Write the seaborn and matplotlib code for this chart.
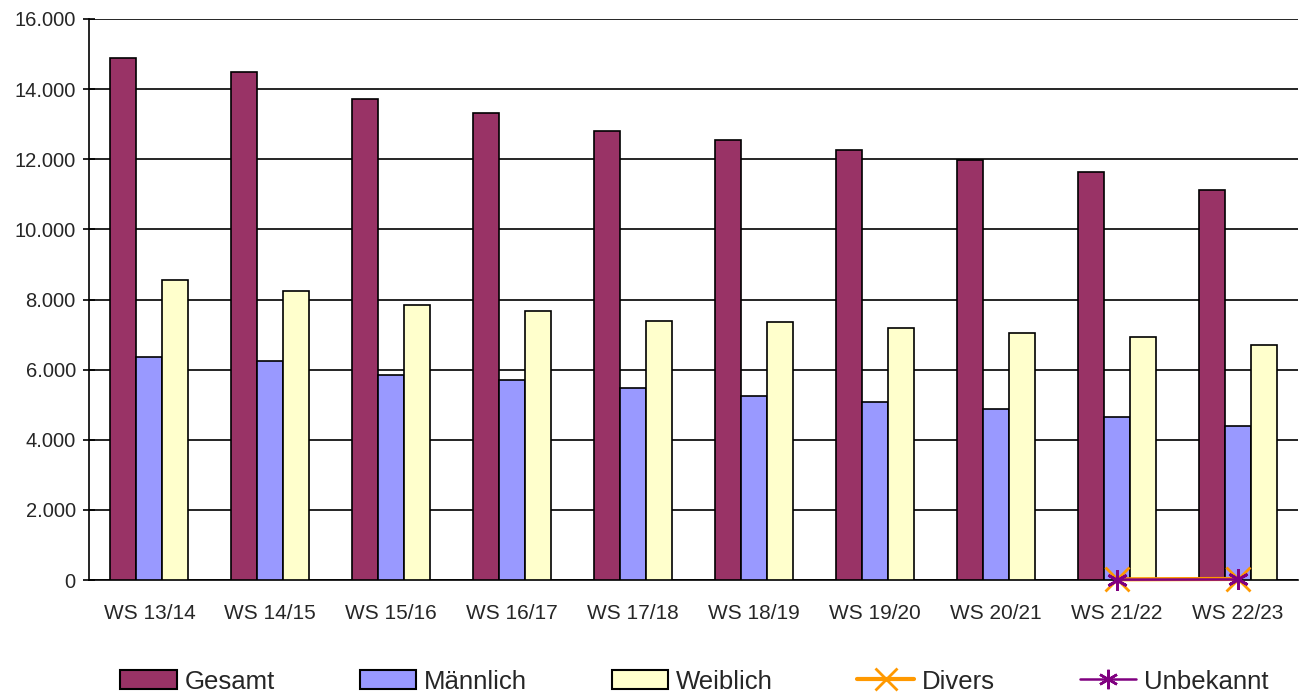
import matplotlib
matplotlib.use("Agg")
import matplotlib.pyplot as plt
import seaborn as sns
import pandas as pd
import numpy as np
from matplotlib.patches import Patch
from matplotlib.lines import Line2D
from matplotlib.ticker import FuncFormatter, FixedLocator

categories = ["WS 13/14", "WS 14/15", "WS 15/16", "WS 16/17", "WS 17/18",
              "WS 18/19", "WS 19/20", "WS 20/21", "WS 21/22", "WS 22/23"]
gesamt = [14890, 14490, 13720, 13320, 12800, 12550, 12260, 11980, 11640, 11120]
maennlich = [6360, 6250, 5850, 5700, 5480, 5250, 5080, 4880, 4650, 4390]
weiblich = [8560, 8240, 7840, 7670, 7390, 7360, 7190, 7040, 6930, 6700]
divers_cats = ["WS 21/22", "WS 22/23"]
divers = [20, 30]
unbekannt = [10, 15]

series_names = ["Gesamt", "Männlich", "Weiblich"]
colors = {"Gesamt": "#993366", "Männlich": "#9999FF", "Weiblich": "#FFFFCC"}

df = pd.DataFrame({
    "Semester": categories * 3,
    "Wert": gesamt + maennlich + weiblich,
    "Gruppe": ["Gesamt"] * 10 + ["Männlich"] * 10 + ["Weiblich"] * 10,
})

sns.set_style("white")
plt.rcParams["font.family"] = ["Liberation Sans", "DejaVu Sans"]

fig = plt.figure(figsize=(13.05, 6.94), dpi=100)
ax = fig.add_axes([89 / 1305, 1 - 580 / 694, (1298 - 89) / 1305, (580 - 19) / 694])

sns.barplot(data=df, x="Semester", y="Wert", hue="Gruppe", order=categories,
            hue_order=series_names, palette=colors, width=0.645, gap=0,
            edgecolor="black", linewidth=1.2, saturation=1, legend=False,
            ax=ax, zorder=3)

idx = [categories.index(c) for c in divers_cats]
ax.plot(idx, divers, color="#FF9900", lw=3, marker="x", ms=17, mew=2, zorder=5,
        clip_on=False)
ax.plot(idx, unbekannt, color="#800080", lw=1.8, marker=(6, 2, 0), ms=15, mew=2,
        zorder=6, clip_on=False)

ax.set_xlim(-0.5, 9.5)
ax.set_ylim(0, 16000)
ax.set_yticks(np.arange(0, 16001, 2000))
ax.yaxis.set_major_formatter(FuncFormatter(lambda v, p: f"{int(v):,}".replace(",", ".")))
ax.grid(axis="y", color="black", lw=1.2, zorder=0)
ax.set_axisbelow(True)
ax.set_xlabel("")
ax.set_ylabel("")

ax.set_xticks(range(len(categories)))
ax.set_xticklabels(categories)
ax.xaxis.set_minor_locator(FixedLocator(np.arange(-0.5, 10, 1)))
ax.tick_params(axis="x", which="major", length=0, pad=17, labelsize=15)
ax.tick_params(axis="x", which="minor", length=6, width=1.2, direction="out", color="black")
ax.tick_params(axis="y", which="major", length=9, width=1.2, direction="inout",
               color="black", labelsize=14.5, pad=5, left=True)

for s in ["top", "right"]:
    ax.spines[s].set_visible(False)
for s in ["left", "bottom"]:
    ax.spines[s].set_color("black")
    ax.spines[s].set_linewidth(1.2)

handles = [
    Patch(facecolor=colors["Gesamt"], edgecolor="black", lw=1.5),
    Patch(facecolor=colors["Männlich"], edgecolor="black", lw=1.5),
    Patch(facecolor=colors["Weiblich"], edgecolor="black", lw=1.5),
    Line2D([], [], color="#FF9900", lw=3, marker="x", ms=16, mew=2),
    Line2D([], [], color="#800080", lw=1.8, marker=(6, 2, 0), ms=14, mew=1.8),
]
labels = ["Gesamt", "Männlich", "Weiblich", "Divers", "Unbekannt"]
fig.legend(handles, labels, loc="center", bbox_to_anchor=(0.532, 0.018), ncol=5,
           frameon=False, fontsize=18.5, handlelength=2.2, handleheight=0.75,
           columnspacing=3.3, handletextpad=0.3)

fig.savefig("out.png", dpi=100)
